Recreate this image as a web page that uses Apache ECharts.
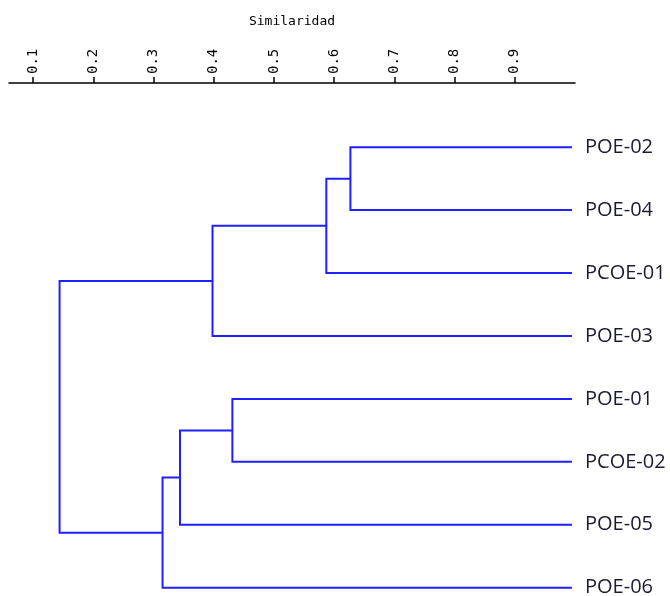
<!DOCTYPE html>
<html>
<head>
<meta charset="utf-8">
<script src="https://cdn.jsdelivr.net/npm/echarts@6/dist/echarts.min.js"></script>
<style>html,body{margin:0;padding:0;background:#fff;}#chart{width:670px;height:596px;}</style>
</head>
<body>
<div id="chart"></div>
<script>
// Leaves (top to bottom)
const leafNames = ['POE-02', 'POE-04', 'PCOE-01', 'POE-03', 'POE-01', 'PCOE-02', 'POE-05', 'POE-06'];
// Similarity at which leaf branches end (right side)
const leafSimilarity = 0.995;
// Merge steps: children indices (0-7 leaves, 8+ = earlier merges in order)
const mergeChildA = [0, 8, 9, 4, 11, 12, 10];
const mergeChildB = [1, 2, 3, 5, 6, 7, 13];
// Similarity level of each merge
const mergeSimilarity = [0.627, 0.587, 0.398, 0.431, 0.344, 0.315, 0.144];
// Axis tick labels
const tickValues = [0.1, 0.2, 0.3, 0.4, 0.5, 0.6, 0.7, 0.8, 0.9];
const axisTitle = 'Similaridad';

// Build node positions
const nodeX = leafNames.map(() => leafSimilarity);
const nodeY = leafNames.map((_, i) => i);
const links = [];
for (let k = 0; k < mergeChildA.length; k++) {
  const a = mergeChildA[k], b = mergeChildB[k], s = mergeSimilarity[k];
  links.push({ coords: [[nodeX[a], nodeY[a]], [s, nodeY[a]], [s, nodeY[b]], [nodeX[b], nodeY[b]]] });
  nodeX.push(s);
  nodeY.push((nodeY[a] + nodeY[b]) / 2);
}

const chart = echarts.init(document.getElementById('chart'), null, { renderer: 'canvas' });
chart.setOption({
  animation: false,
  backgroundColor: '#ffffff',
  grid: { left: 9, right: 95, top: 83, height: 511, outerBoundsMode: 'none', containLabel: false },
  xAxis: {
    type: 'value',
    position: 'top',
    min: 0.06,
    max: 1.0,
    name: axisTitle,
    nameLocation: 'middle',
    nameGap: 55,
    nameTextStyle: { fontFamily: 'DejaVu Sans Mono', fontSize: 13, color: '#000' },
    axisLine: { show: true, onZero: false, lineStyle: { color: '#000', width: 1.5 } },
    axisTick: { show: true, customValues: tickValues, length: 6, lineStyle: { color: '#000', width: 1.5 } },
    axisLabel: {
      customValues: tickValues,
      rotate: -90,
      margin: 9,
      fontFamily: 'DejaVu Sans Mono',
      fontSize: 14,
      color: '#000',
      formatter: v => String(Math.round(v * 10) / 10)
    },
    splitLine: { show: false }
  },
  yAxis: {
    type: 'value',
    inverse: true,
    position: 'right',
    min: -1.02,
    max: 7.1,
    axisLine: { show: false, onZero: false },
    axisTick: { show: false },
    splitLine: { show: false },
    axisLabel: {
      customValues: leafNames.map((_, i) => i),
      margin: 10,
      fontFamily: 'Open Sans',
      fontSize: 20,
      color: '#1c1c30',
      formatter: v => leafNames[Math.round(v)] || ''
    }
  },
  series: [{
    type: 'lines',
    coordinateSystem: 'cartesian2d',
    polyline: true,
    silent: true,
    lineStyle: { color: '#1f1fff', width: 2, opacity: 1 },
    data: links
  }]
});
</script>
</body>
</html>
